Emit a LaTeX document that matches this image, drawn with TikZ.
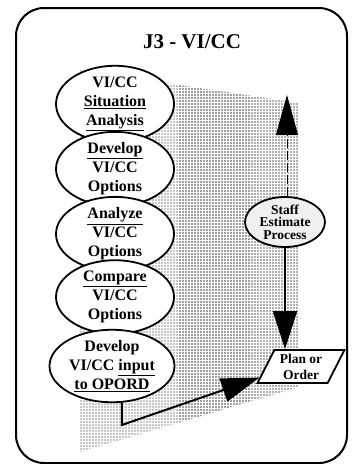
\documentclass[tikz,border=0pt]{standalone}
\usepackage{fontspec}
\setmainfont{Liberation Serif}
\usetikzlibrary{arrows.meta,positioning,calc,shapes.geometric}
\tikzset{
  lepes/.style={draw,ellipse,line width=1.8pt,fill=white,minimum width=118pt,minimum height=65pt,
                inner sep=0pt,align=center,font=\fontsize{16}{19}\selectfont\bfseries},
  becsles/.style={draw,ellipse,line width=1.8pt,fill=gray!12,minimum width=80pt,minimum height=50pt,
                  inner sep=0pt,align=center,font=\fontsize{13.5}{12.5}\selectfont\bfseries},
  terv/.style={draw,trapezium,trapezium left angle=63,trapezium right angle=117,line width=1.8pt,
               fill=white,minimum width=72pt,minimum height=33pt,inner sep=1pt,align=center,
               font=\fontsize{13.5}{16}\selectfont\bfseries},
  nyil/.style={line width=2pt,-{Triangle[length=38pt,width=24pt]}},
  vnyil/.style={line width=0.8pt,dash pattern=on 9pt off 3pt,-{Triangle[length=40pt,width=22pt]}},
  keret/.style={line width=2pt,rounded corners=28pt},
  raszter/.style={line width=2pt,dash pattern=on 2pt off 1pt},
}
\begin{document}
\begin{tikzpicture}[x=1pt,y=-1pt]
  \useasboundingbox (0,0) rectangle (352,464);
  \draw[keret] (16,8) rectangle (347,463);
  \node[font=\fontsize{21}{21}\selectfont\bfseries] (cim) at (192,42) {J3 - VI/CC};
  % raster background behind the steps: columns of small grey squares
  \begin{scope}
    \clip (80,70) -- (299,103) -- (299,387) -- (80,452) -- cycle;
    \foreach \x in {81,84,...,299} {
      \pgfmathtruncatemacro\tonus{\x<180 ? 45 : (\x<250 ? 75 : 62)}
      \draw[raszter,gray!\tonus] (\x,70) -- (\x,452);
    }
  \end{scope}
  % the five steps
  \node[lepes] (e1) at (115,104) {VI/CC\\ \underline{Situation}\\ \underline{Analysis}};
  \node[lepes] (e2) at (115,169) {\underline{Develop}\\ VI/CC\\ Options};
  \node[lepes] (e3) at (115,234) {\underline{Analyze}\\ VI/CC\\ Options};
  \node[lepes] (e4) at (115,297) {\underline{Compare}\\ VI/CC\\ Options};
  \node[lepes,minimum width=125pt] (e5) at (112,366) {Develop\\ VI/CC \underline{input}\\ \underline{to OPORD}};
  \node[becsles] (becsles) at (285,222) {Staff\\ Estimate\\ Process};
  \node[terv] (terv) at (301,366.5) {Plan or\\ Order};
  % connectors
  \coordinate (csucs) at (287,95);
  \coordinate (tores) at (121,425);
  \draw[vnyil] (becsles.north -| csucs) -- (csucs);
  \draw[nyil] (becsles.south) -- (becsles.south |- terv.north);
  \draw[nyil] (e5.-75) -- (e5.-75 |- tores) -- ($(terv.bottom left corner)!0.18!(terv.top left corner)$);
\end{tikzpicture}
\end{document}
